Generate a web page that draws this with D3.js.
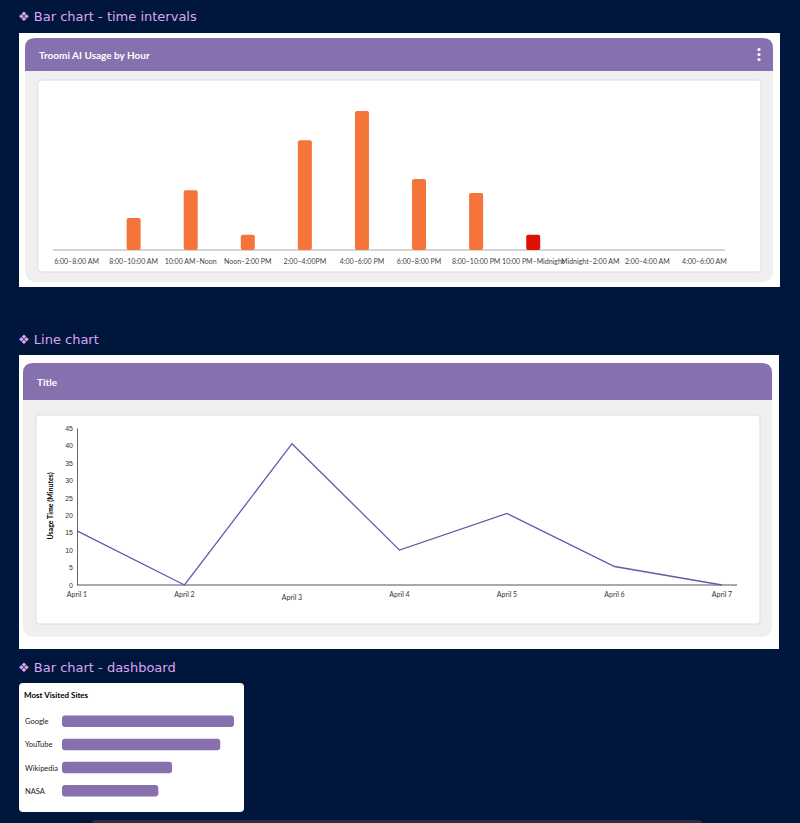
<!DOCTYPE html>
<html><head><meta charset="utf-8">
<script src="https://cdn.jsdelivr.net/npm/d3@7"></script>
<style>
body{margin:0;background:#01163c;font-family:Lato,"Open Sans",sans-serif;}
</style></head><body>
<div id="chart"></div>
<script>
// bar chart - time intervals
var hours = ["6:00–8:00 AM","8:00–10:00 AM","10:00 AM–Noon","Noon–2:00 PM","2:00–4:00PM","4:00–6:00 PM","6:00–8:00 PM","8:00–10:00 PM","10:00 PM–Midnight","Midnight–2:00 AM","2:00–4:00 AM","4:00–6:00 AM"];
var hourUsage = [0, 23, 43, 11, 79, 100, 51, 41, 11, 0, 0, 0];
var hourFlag = [0, 0, 0, 0, 0, 0, 0, 0, 1, 0, 0, 0]; // 1 = red bar

// line chart
var days = ["April 1","April 2","April 3","April 4","April 5","April 6","April 7"];
var dayMinutes = [15.5, 0, 40.5, 10, 20.5, 5.3, 0];
var yTicks = [0,5,10,15,20,25,30,35,40,45];

// dashboard
var sites = ["Google","YouTube","Wikipedia","NASA"];
var visits = [100, 92, 64, 56];

var W = 800, H = 823;
var purple = "#8670ae", sectionCol = "#d9a6f2";
var svg = d3.select("#chart").append("svg").attr("width", W).attr("height", H);
svg.append("rect").attr("width", W).attr("height", H).attr("fill", "#01163c");

function section(y, text) {
    svg.append("text").attr("x", 18).attr("y", y).attr("fill", sectionCol)
        .attr("font-size", 13).attr("font-family", "DejaVu Sans, sans-serif").text("❖ " + text);
}
function card(x0, y0, x1, y1, hy, title, dots) {
    svg.append("rect").attr("x", x0).attr("y", y0).attr("width", x1 - x0).attr("height", y1 - y0)
        .attr("rx", 10).attr("fill", "#efefef");
    svg.append("path").attr("d", "M" + x0 + "," + hy + "V" + (y0 + 10) + "Q" + x0 + "," + y0 + " " + (x0 + 10) + "," + y0
        + "H" + (x1 - 10) + "Q" + x1 + "," + y0 + " " + x1 + "," + (y0 + 10) + "V" + hy + "Z").attr("fill", purple);
    svg.append("text").attr("x", x0 + 14).attr("y", (y0 + hy) / 2 + 4).attr("fill", "#fff")
        .attr("font-size", 10).attr("font-weight", "bold").text(title);
    if (dots) {
        [-5, 0, 5].forEach(function (d) {
            svg.append("circle").attr("cx", x1 - 14).attr("cy", (y0 + hy) / 2 + d).attr("r", 1.6).attr("fill", "#fff");
        });
    }
}

// ---- section 1 ----
section(21, "Bar chart - time intervals");
svg.append("rect").attr("x", 19).attr("y", 33).attr("width", 761).attr("height", 254).attr("fill", "#fff");
card(25, 38, 773, 282, 71, "Troomi AI Usage by Hour", true);
svg.append("rect").attr("x", 38).attr("y", 80).attr("width", 723).attr("height", 192).attr("rx", 3)
    .attr("fill", "#fff").attr("stroke", "#ddd");

var x1 = d3.scaleBand().domain(hours).range([48, 733]);
var y1 = d3.scaleLinear().domain([0, 100]).range([250, 111]);
var g1 = svg.append("g");
g1.append("line").attr("x1", 53).attr("x2", 725).attr("y1", 250).attr("y2", 250).attr("stroke", "#aaa");
g1.selectAll("rect.bar").data(hourUsage).join("rect").attr("class", "bar")
    .attr("x", function (d, i) { return x1(hours[i]) + x1.bandwidth() / 2 - 7; })
    .attr("y", function (d) { return y1(d); })
    .attr("width", 14)
    .attr("height", function (d) { return 250 - y1(d); })
    .attr("rx", 2)
    .attr("fill", function (d, i) { return hourFlag[i] ? "#dc1205" : "#f4743a"; });
g1.selectAll("text.lbl").data(hours).join("text").attr("class", "lbl")
    .attr("x", function (d) { return x1(d) + x1.bandwidth() / 2; }).attr("y", 264)
    .attr("text-anchor", "middle").attr("font-size", 7).attr("fill", "#444").text(function (d) { return d; });

// ---- section 2 ----
section(344, "Line chart");
svg.append("rect").attr("x", 19).attr("y", 355).attr("width", 760).attr("height", 294).attr("fill", "#fff");
card(23, 363, 772, 637, 400, "Title", false);
svg.append("rect").attr("x", 36).attr("y", 415).attr("width", 724).attr("height", 209).attr("rx", 3)
    .attr("fill", "#fff").attr("stroke", "#ddd");

var x2 = d3.scalePoint().domain(days).range([77, 722]);
var y2 = d3.scaleLinear().domain([0, 45]).range([585, 428]);
var g2 = svg.append("g");
g2.append("g").attr("transform", "translate(77,0)")
    .call(d3.axisLeft(y2).tickValues(yTicks).tickSize(0).tickPadding(4))
    .call(function (a) { a.select(".domain").attr("stroke", "#666"); a.selectAll("text").attr("font-size", 7).attr("fill", "#333"); });
g2.append("line").attr("x1", 77).attr("x2", 737).attr("y1", 585).attr("y2", 585).attr("stroke", "#555").attr("stroke-width", 1.2);
g2.selectAll("text.day").data(days).join("text").attr("class", "day")
    .attr("x", function (d) { return x2(d); }).attr("y", function (d, i) { return i == 2 ? 600 : 597; })
    .attr("text-anchor", "middle").attr("font-size", 7).attr("fill", "#333").text(function (d) { return d; });
g2.append("text").attr("transform", "translate(53,506) rotate(-90)").attr("text-anchor", "middle")
    .attr("font-size", 7).attr("font-weight", "bold").text("Usage Time (Minutes)");
g2.append("path").datum(dayMinutes)
    .attr("d", d3.line().x(function (d, i) { return x2(days[i]); }).y(function (d) { return y2(d); }))
    .attr("fill", "none").attr("stroke", "#6a55a8").attr("stroke-width", 1.3);

// ---- section 3 ----
section(672, "Bar chart - dashboard");
svg.append("rect").attr("x", 19).attr("y", 683).attr("width", 225).attr("height", 129).attr("rx", 4).attr("fill", "#fff");
svg.append("text").attr("x", 24).attr("y", 698).attr("font-size", 8).attr("font-weight", "bold").text("Most Visited Sites");
var x3 = d3.scaleLinear().domain([0, 100]).range([62, 234]);
var y3 = d3.scaleBand().domain(sites).range([704, 808]).padding(0.5);
var g3 = svg.append("g");
g3.selectAll("rect").data(visits).join("rect")
    .attr("x", 62).attr("y", function (d, i) { return y3(sites[i]); })
    .attr("width", function (d) { return x3(d) - 62; }).attr("height", y3.bandwidth())
    .attr("rx", 3).attr("fill", purple);
g3.selectAll("text").data(sites).join("text")
    .attr("x", 25).attr("y", function (d) { return y3(d) + y3.bandwidth() / 2 + 3; })
    .attr("font-size", 7.5).attr("fill", "#222").text(function (d) { return d; });

svg.append("rect").attr("x", 92).attr("y", 820).attr("width", 610).attr("height", 6).attr("rx", 3).attr("fill", "#2b2f3a");
</script>
</body></html>
